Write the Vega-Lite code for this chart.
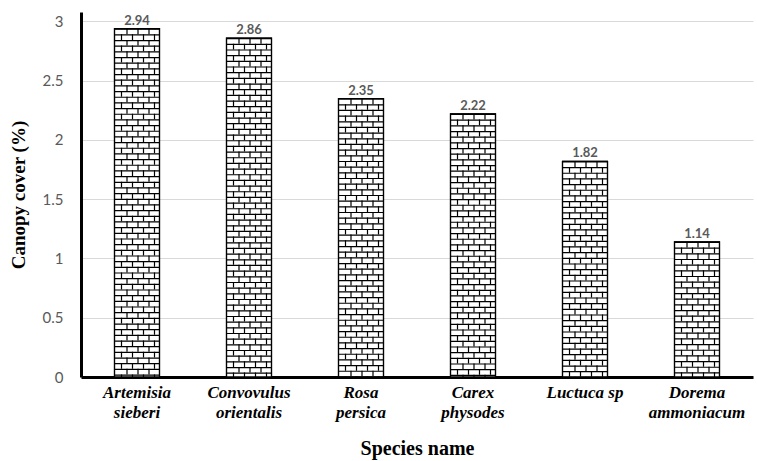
{
  "$schema": "https://vega.github.io/schema/vega-lite/v6.json",
  "width": 672,
  "height": 365,
  "autosize": {"type": "none"},
  "padding": {"left": 81, "top": 12, "right": 4, "bottom": 84},
  "background": "white",
  "config": {
    "view": {"stroke": null},
    "axis": {"gridColor": "#d9d9d9", "gridWidth": 1}
  },
  "data": {
    "values": [
      {"species": "Artemisia sieberi", "cover": 2.94},
      {"species": "Convovulus orientalis", "cover": 2.86},
      {"species": "Rosa persica", "cover": 2.35},
      {"species": "Carex physodes", "cover": 2.22},
      {"species": "Luctuca sp", "cover": 1.82},
      {"species": "Dorema ammoniacum", "cover": 1.14}
    ]
  },
  "encoding": {
    "x": {
      "field": "species",
      "type": "nominal",
      "sort": null,
      "scale": {"paddingInner": 0, "paddingOuter": 0},
      "axis": {
        "title": "Species name",
        "titleFont": "Liberation Serif",
        "titleFontWeight": "bold",
        "titleFontSize": 20,
        "titleColor": "black",
        "titlePadding": 18,
        "labelFont": "Liberation Serif",
        "labelFontStyle": "italic",
        "labelFontWeight": "bold",
        "labelFontSize": 17,
        "labelColor": "black",
        "labelAngle": 0,
        "labelPadding": 7,
        "labelLineHeight": 20,
        "labelExpr": "datum.label == 'Luctuca sp' ? datum.label : split(datum.label, ' ')",
        "ticks": false,
        "domainColor": "black",
        "domainWidth": 3,
        "grid": false
      }
    },
    "y": {
      "field": "cover",
      "type": "quantitative",
      "scale": {"domain": [0, 3.08], "nice": false},
      "axis": {
        "title": "Canopy cover (%)",
        "titleFont": "Liberation Serif",
        "titleFontWeight": "bold",
        "titleFontSize": 19,
        "titleColor": "black",
        "titlePadding": 14,
        "values": [0, 0.5, 1, 1.5, 2, 2.5, 3],
        "format": "~g",
        "labelFont": "Lato",
        "labelFontSize": 15,
        "labelColor": "#595959",
        "labelPadding": 18,
        "ticks": false,
        "domainColor": "black",
        "domainWidth": 3,
        "grid": true
      }
    }
  },
  "layer": [
    {"mark": {"type": "bar", "width": 45, "fill": "white", "stroke": "black", "strokeWidth": 1.2}},
    {"mark": {"type": "rule", "color": "black", "strokeWidth": 45, "strokeDash": [1.2, 4.47], "strokeCap": "butt"},
     "encoding": {"y2": {"datum": 0}}},
    {"mark": {"type": "rule", "color": "black", "strokeWidth": 1.2, "strokeDash": [5.67, 5.67], "strokeCap": "butt", "xOffset": -10},
     "encoding": {"y2": {"datum": 0}}},
    {"mark": {"type": "rule", "color": "black", "strokeWidth": 1.2, "strokeDash": [5.67, 5.67], "strokeCap": "butt", "xOffset": 1},
     "encoding": {"y2": {"datum": 0}}},
    {"mark": {"type": "rule", "color": "black", "strokeWidth": 1.2, "strokeDash": [5.67, 5.67], "strokeCap": "butt", "xOffset": 12},
     "encoding": {"y2": {"datum": 0}}},
    {"mark": {"type": "rule", "color": "black", "strokeWidth": 1.2, "strokeDash": [5.67, 5.67], "strokeDashOffset": 5.67, "strokeCap": "butt", "xOffset": -15.5},
     "encoding": {"y2": {"datum": 0}}},
    {"mark": {"type": "rule", "color": "black", "strokeWidth": 1.2, "strokeDash": [5.67, 5.67], "strokeDashOffset": 5.67, "strokeCap": "butt", "xOffset": -4.5},
     "encoding": {"y2": {"datum": 0}}},
    {"mark": {"type": "rule", "color": "black", "strokeWidth": 1.2, "strokeDash": [5.67, 5.67], "strokeDashOffset": 5.67, "strokeCap": "butt", "xOffset": 6.5},
     "encoding": {"y2": {"datum": 0}}},
    {"mark": {"type": "rule", "color": "black", "strokeWidth": 1.2, "strokeDash": [5.67, 5.67], "strokeDashOffset": 5.67, "strokeCap": "butt", "xOffset": 17.5},
     "encoding": {"y2": {"datum": 0}}},
    {"mark": {"type": "bar", "width": 45, "fillOpacity": 0, "stroke": "black", "strokeWidth": 1.2}},
    {"mark": {"type": "text", "baseline": "bottom", "dy": -1, "font": "Lato", "fontWeight": "bold", "fontSize": 13, "color": "#595959"},
     "encoding": {"text": {"field": "cover", "type": "quantitative", "format": ".2f"}}}
  ]
}
